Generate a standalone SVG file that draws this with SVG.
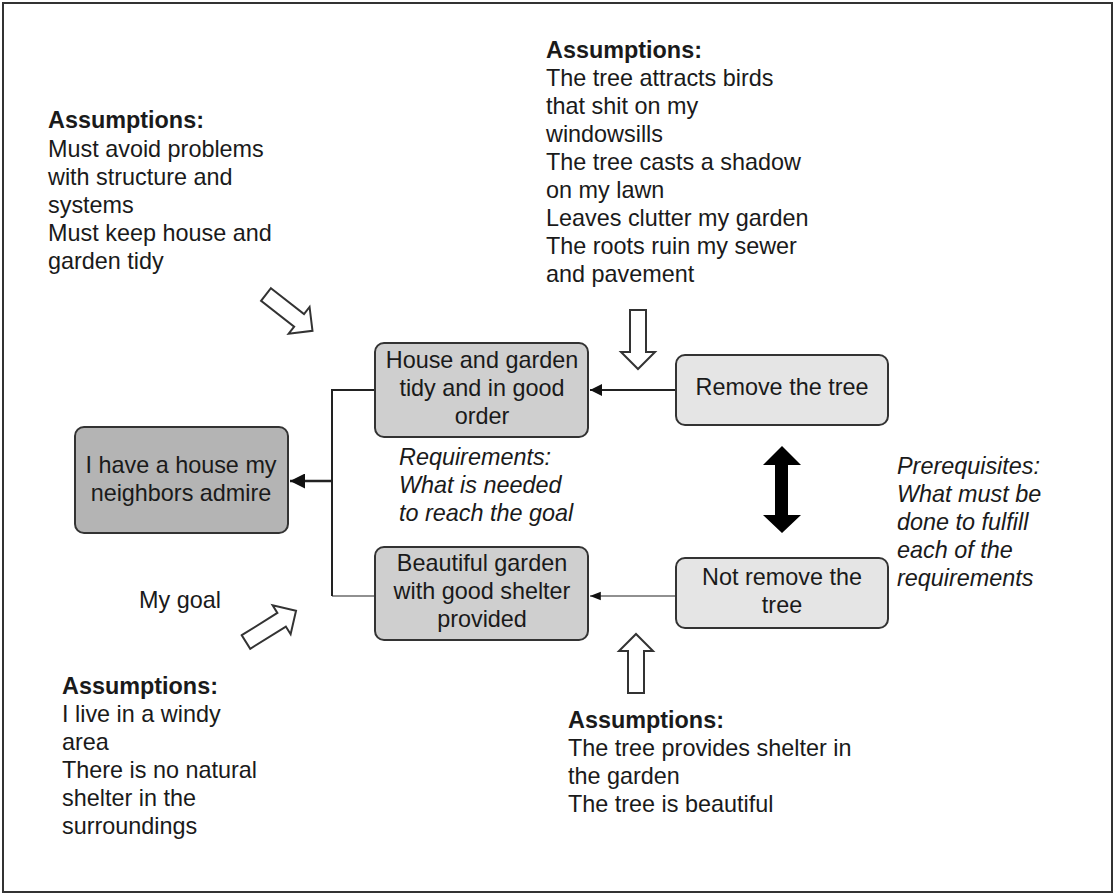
<svg xmlns="http://www.w3.org/2000/svg" width="1115" height="895" viewBox="0 0 1115 895">
  <style>
    .t { font-family: "Liberation Sans", Arial, sans-serif; font-size: 23.4px; fill: #1a1a1a; }
    .b { font-weight: bold; }
    .i { font-style: italic; }
    .c { text-anchor: middle; }
    .box { stroke: #333; stroke-width: 2; }
    .goal { fill: #b4b4b4; }
    .req { fill: #cfcfcf; }
    .pre { fill: #e5e5e5; }
    .ln { fill: none; stroke: #222; }
    .hollow { fill: #fff; stroke: #333; stroke-width: 2; stroke-linejoin: miter; }
  </style>
  <defs>
    <marker id="head" viewBox="0 0 10 10" refX="10" refY="5" markerWidth="6" markerHeight="6" markerUnits="strokeWidth" orient="auto">
      <path d="M0,0 L10,5 L0,10 z" fill="#111"/>
    </marker>
    <marker id="headThin" viewBox="0 0 10 10" refX="10" refY="5" markerWidth="9" markerHeight="9" markerUnits="strokeWidth" orient="auto">
      <path d="M0,1 L10,5 L0,9 z" fill="#111"/>
    </marker>
    <!-- hollow block arrow pointing along +x, tail at origin -->
    <path id="blockArrow" d="M0,-8 L42,-8 L42,-17 L59,0 L42,17 L42,8 L0,8 z"/>
  </defs>

  <rect x="3" y="3" width="1109" height="889" fill="#fff" stroke="#333" stroke-width="2"/>

  <!-- connectors -->
  <g id="connectors">
    <path class="ln" stroke-width="2" d="M376,390 H332 V596"/>
    <path class="ln" stroke-width="1.2" d="M332,596 H376"/>
    <line class="ln" stroke-width="2.5" x1="332" y1="481" x2="290" y2="481" marker-end="url(#head)"/>
    <line class="ln" stroke-width="2" x1="676" y1="390" x2="590" y2="390" marker-end="url(#head)"/>
    <line class="ln" stroke-width="1.2" x1="676" y1="596" x2="590" y2="596" marker-end="url(#headThin)"/>
    <!-- alternatives: remove vs keep -->
    <path d="M782,446 L801,465 L788,465 L788,515 L801,515 L782,533 L763,515 L775,515 L775,465 L763,465 z" fill="#000"/>
    <!-- assumption pointers -->
    <use href="#blockArrow" class="hollow" transform="translate(266,294.5) rotate(38)"/>
    <use href="#blockArrow" class="hollow" transform="translate(246,642) rotate(-32)"/>
    <use href="#blockArrow" class="hollow" transform="translate(638,310) rotate(90)"/>
    <use href="#blockArrow" class="hollow" transform="translate(636,693) rotate(-90)"/>
  </g>

  <g id="goal">
    <rect class="box goal" x="75" y="427" width="213" height="106" rx="9"/>
    <text class="t c" x="181" y="473">I have a house my</text>
    <text class="t c" x="181" y="501">neighbors admire</text>
  </g>

  <g id="req-house">
    <rect class="box req" x="375" y="343" width="213" height="94" rx="9"/>
    <text class="t c" x="482" y="368">House and garden</text>
    <text class="t c" x="482" y="396">tidy and in good</text>
    <text class="t c" x="482" y="424">order</text>
  </g>

  <g id="req-garden">
    <rect class="box req" x="375" y="547" width="213" height="93" rx="9"/>
    <text class="t c" x="482" y="571">Beautiful garden</text>
    <text class="t c" x="482" y="599">with good shelter</text>
    <text class="t c" x="482" y="627">provided</text>
  </g>

  <g id="pre-remove">
    <rect class="box pre" x="676" y="355" width="212" height="70" rx="9"/>
    <text class="t c" x="782" y="395">Remove the tree</text>
  </g>

  <g id="pre-keep">
    <rect class="box pre" x="676" y="558" width="212" height="70" rx="9"/>
    <text class="t c" x="782" y="585">Not remove the</text>
    <text class="t c" x="782" y="613">tree</text>
  </g>

  <g id="label-goal">
    <text class="t" x="139" y="608">My goal</text>
  </g>

  <g id="label-requirements">
    <text class="t i" x="399" y="465">Requirements:</text>
    <text class="t i" x="399" y="493">What is needed</text>
    <text class="t i" x="399" y="521">to reach the goal</text>
  </g>

  <g id="label-prerequisites">
    <text class="t i" x="897" y="474">Prerequisites:</text>
    <text class="t i" x="897" y="502">What must be</text>
    <text class="t i" x="897" y="530">done to fulfill</text>
    <text class="t i" x="897" y="558">each of the</text>
    <text class="t i" x="897" y="586">requirements</text>
  </g>

  <g id="assumptions-house">
    <text class="t b" x="48" y="128">Assumptions:</text>
    <text class="t" x="48" y="157">Must avoid problems</text>
    <text class="t" x="48" y="185">with structure and</text>
    <text class="t" x="48" y="213">systems</text>
    <text class="t" x="48" y="241">Must keep house and</text>
    <text class="t" x="48" y="269">garden tidy</text>
  </g>

  <g id="assumptions-remove">
    <text class="t b" x="546" y="58">Assumptions:</text>
    <text class="t" x="546" y="86">The tree attracts birds</text>
    <text class="t" x="546" y="114">that shit on my</text>
    <text class="t" x="546" y="142">windowsills</text>
    <text class="t" x="546" y="170">The tree casts a shadow</text>
    <text class="t" x="546" y="198">on my lawn</text>
    <text class="t" x="546" y="226">Leaves clutter my garden</text>
    <text class="t" x="546" y="254">The roots ruin my sewer</text>
    <text class="t" x="546" y="282">and pavement</text>
  </g>

  <g id="assumptions-garden">
    <text class="t b" x="62" y="694">Assumptions:</text>
    <text class="t" x="62" y="722">I live in a windy</text>
    <text class="t" x="62" y="750">area</text>
    <text class="t" x="62" y="778">There is no natural</text>
    <text class="t" x="62" y="806">shelter in the</text>
    <text class="t" x="62" y="834">surroundings</text>
  </g>

  <g id="assumptions-keep">
    <text class="t b" x="568" y="728">Assumptions:</text>
    <text class="t" x="568" y="756">The tree provides shelter in</text>
    <text class="t" x="568" y="784">the garden</text>
    <text class="t" x="568" y="812">The tree is beautiful</text>
  </g>
</svg>
